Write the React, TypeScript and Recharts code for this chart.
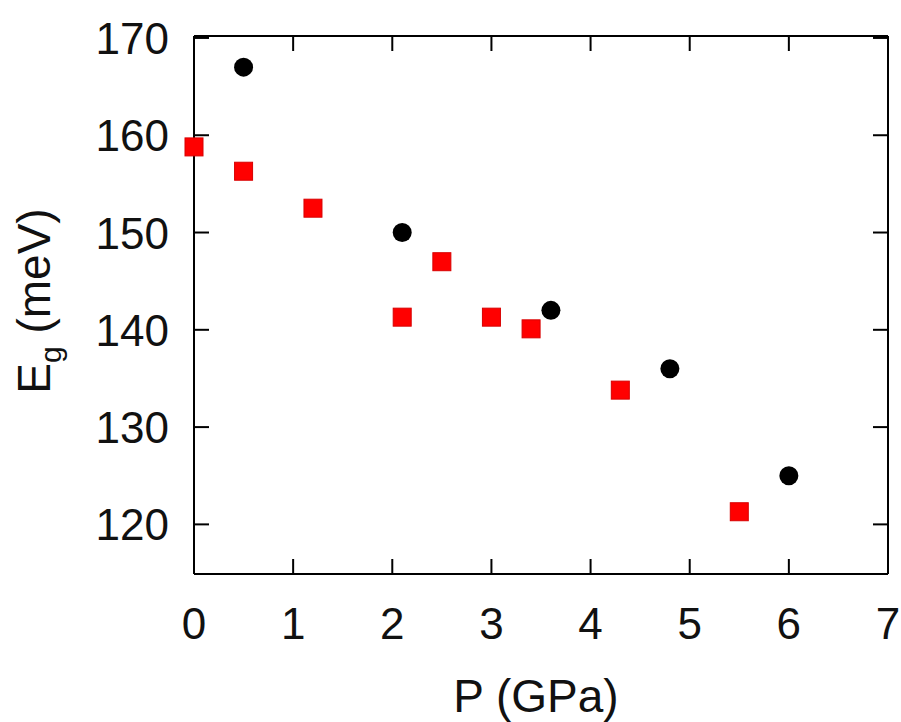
import { ScatterChart, Scatter, XAxis, YAxis } from "recharts"

// black circles
const pressureBlack = [0.5, 2.1, 3.6, 4.8, 6.0]
const gapBlack = [167, 150, 142, 136, 125]

// red squares
const pressureRed = [0, 0.5, 1.2, 2.1, 2.5, 3.0, 3.4, 4.3, 5.5]
const gapRed = [158.8, 156.3, 152.5, 141.3, 147, 141.3, 140.1, 133.8, 121.3]

const xTicks = [0, 1, 2, 3, 4, 5, 6, 7]
const yTicks = [120, 130, 140, 150, 160, 170]

const blackData = pressureBlack.map((p, i) => ({ p, eg: gapBlack[i] }))
const redData = pressureRed.map((p, i) => ({ p, eg: gapRed[i] }))

const FONT = "'Liberation Sans', Arial, sans-serif"
const TICK_LEN = 15

const BottomTick = (props: any) => {
  const { x, y, payload } = props
  return (
    <g>
      <line x1={x} y1={y} x2={x} y2={y - TICK_LEN} stroke="#000" strokeWidth={2} />
      <text x={x} y={y + 65} textAnchor="middle" fontSize={44} fontFamily={FONT} fill="#111">
        {payload.value}
      </text>
    </g>
  )
}

const TopTick = (props: any) => {
  const { x, y } = props
  return <line x1={x} y1={y} x2={x} y2={y + TICK_LEN} stroke="#000" strokeWidth={2} />
}

const LeftTick = (props: any) => {
  const { x, y, payload } = props
  return (
    <g>
      <line x1={x} y1={y} x2={x + TICK_LEN} y2={y} stroke="#000" strokeWidth={2} />
      <text x={x - 25} y={y + 16} textAnchor="end" fontSize={44} fontFamily={FONT} fill="#111">
        {payload.value}
      </text>
    </g>
  )
}

const RightTick = (props: any) => {
  const { x, y } = props
  return <line x1={x} y1={y} x2={x - TICK_LEN} y2={y} stroke="#000" strokeWidth={2} />
}

const XTitle = (props: any) => {
  const { viewBox } = props
  return (
    <text
      x={viewBox.x + viewBox.width / 2 - 5}
      y={viewBox.y + 138}
      textAnchor="middle"
      fontSize={46}
      fontFamily={FONT}
      fill="#111"
    >
      P (GPa)
    </text>
  )
}

const YTitle = (props: any) => {
  const { viewBox } = props
  const cx = viewBox.x + 50
  const cy = viewBox.y + viewBox.height / 2 - 4
  return (
    <text
      x={cx}
      y={cy}
      transform={`rotate(-90, ${cx}, ${cy})`}
      textAnchor="middle"
      fontSize={46}
      fontFamily={FONT}
      fill="#111"
    >
      E<tspan dy={11} fontSize={30}>g</tspan>
      <tspan dy={-11}> (meV)</tspan>
    </text>
  )
}

const Dot = (props: any) => <circle cx={props.cx} cy={props.cy} r={9.5} fill="#000" />

const Square = (props: any) => (
  <rect x={props.cx - 9} y={props.cy - 9} width={18} height={18} fill="#ff0000" stroke="#d80000" strokeWidth={1} />
)

const Nothing = () => <g />

export default function App() {
  return (
    <div style={{ position: "absolute", left: 0, top: 0, background: "#fff" }}>
      <ScatterChart width={901} height={722} margin={{ top: 35, right: 12, left: 0, bottom: 0 }}>
        <XAxis
          xAxisId={0}
          type="number"
          dataKey="p"
          domain={[0, 7]}
          ticks={xTicks}
          height={148}
          tickSize={0}
          tickMargin={0}
          tickLine={false}
          axisLine={{ stroke: "#000", strokeWidth: 2 }}
          tick={<BottomTick />}
          label={{ content: XTitle }}
        />
        <XAxis
          xAxisId="top"
          orientation="top"
          type="number"
          dataKey="p"
          domain={[0, 7]}
          ticks={xTicks}
          height={1}
          tickSize={0}
          tickMargin={0}
          tickLine={false}
          axisLine={{ stroke: "#000", strokeWidth: 2 }}
          tick={<TopTick />}
        />
        <YAxis
          yAxisId={0}
          type="number"
          dataKey="eg"
          domain={[114.9, 170.2]}
          ticks={yTicks}
          width={194}
          tickSize={0}
          tickMargin={0}
          tickLine={false}
          axisLine={{ stroke: "#000", strokeWidth: 2 }}
          tick={<LeftTick />}
          label={{ content: YTitle }}
        />
        <YAxis
          yAxisId="right"
          orientation="right"
          type="number"
          dataKey="eg"
          domain={[114.9, 170.2]}
          ticks={yTicks}
          width={1}
          tickSize={0}
          tickMargin={0}
          tickLine={false}
          axisLine={{ stroke: "#000", strokeWidth: 2 }}
          tick={<RightTick />}
        />
        {/* invisible series so the mirrored frame axes get drawn */}
        <Scatter xAxisId="top" yAxisId="right" data={redData} shape={<Nothing />} isAnimationActive={false} />
        <Scatter xAxisId={0} yAxisId={0} data={redData} shape={<Square />} isAnimationActive={false} />
        <Scatter xAxisId={0} yAxisId={0} data={blackData} shape={<Dot />} isAnimationActive={false} />
      </ScatterChart>
    </div>
  )
}
